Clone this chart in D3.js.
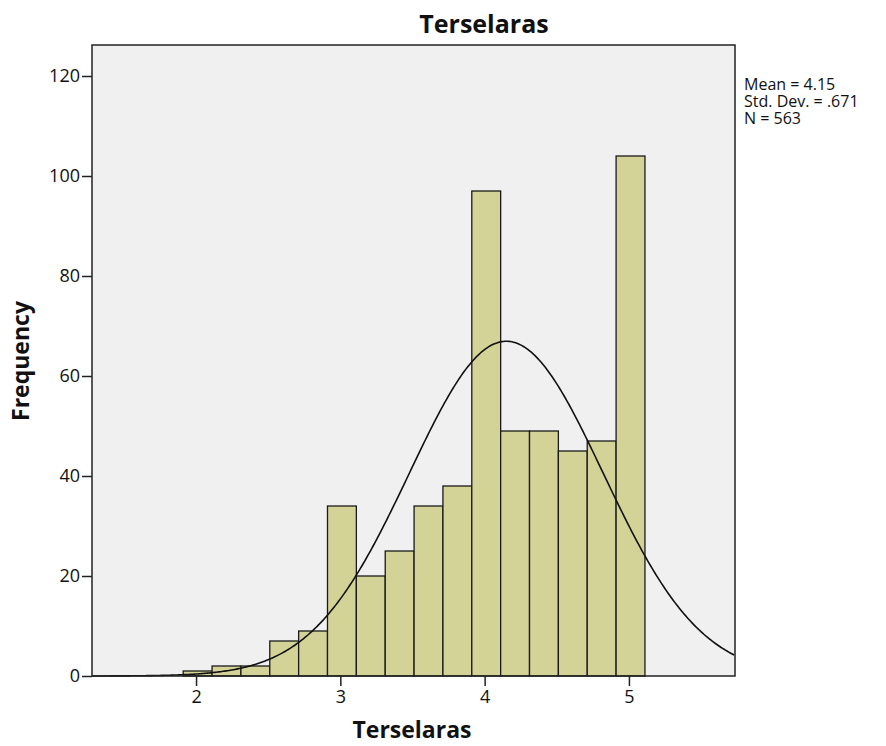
<!DOCTYPE html>
<head>
	<script src="https://d3js.org/d3.v7.min.js"></script>
	<style>
		body { margin: 0; background: #fff; }
		text { font-family: "Open Sans", sans-serif; fill: #111; }
	</style>
</head>
<body>
	<script type="text/javascript">
		// histogram bins (lower edges) and counts
		var binStart = [1.911, 2.111, 2.311, 2.511, 2.711, 2.911, 3.111, 3.311, 3.511, 3.711, 3.911, 4.111, 4.311, 4.511, 4.711, 4.911];
		var counts = [1, 2, 2, 7, 9, 34, 20, 25, 34, 38, 97, 49, 49, 45, 47, 104];
		var binWidth = 0.2;
		var xTicks = [2, 3, 4, 5];
		var yTicks = [0, 20, 40, 60, 80, 100, 120];
		var stats = ["Mean = 4.15", "Std. Dev. = .671", "N = 563"];
		var mean = 4.15, sd = 0.671, n = 563;

		var w = 886, h = 746;
		var pLeft = 92, pRight = 735, pTop = 45, pBottom = 676;

		var svg = d3.select("body").append("svg").attr("width", w).attr("height", h);

		var xScale = d3.scaleLinear().domain([1.279, 5.735]).range([pLeft, pRight]);
		var yScale = d3.scaleLinear().domain([0, 126.2]).range([pBottom, pTop]);

		svg.append("rect")
			.attr("x", pLeft).attr("y", pTop)
			.attr("width", pRight - pLeft).attr("height", pBottom - pTop)
			.attr("fill", "#f0f0f0");

		svg.selectAll("rect.bar")
			.data(counts)
			.enter()
			.append("rect")
			.attr("class", "bar")
			.attr("x", function(d, i){ return xScale(binStart[i]); })
			.attr("y", function(d){ return yScale(d); })
			.attr("width", function(d, i){ return xScale(binStart[i] + binWidth) - xScale(binStart[i]); })
			.attr("height", function(d){ return pBottom - yScale(d); })
			.attr("fill", "#d4d397")
			.attr("stroke", "#1a1a1a")
			.attr("stroke-width", 1.3);

		// normal curve from mean / sd / n
		var curve = d3.range(1.279, 5.735, 0.01).map(function(x){
			var z = (x - mean) / sd;
			return [x, n * binWidth * Math.exp(-0.5 * z * z) / (sd * Math.sqrt(2 * Math.PI))];
		});
		var line = d3.line()
			.x(function(d){ return xScale(d[0]); })
			.y(function(d){ return yScale(d[1]); });
		svg.append("path")
			.datum(curve)
			.attr("d", line)
			.attr("fill", "none")
			.attr("stroke", "#111")
			.attr("stroke-width", 1.6);

		// frame
		svg.append("rect")
			.attr("x", pLeft).attr("y", pTop)
			.attr("width", pRight - pLeft).attr("height", pBottom - pTop)
			.attr("fill", "none")
			.attr("stroke", "#222")
			.attr("stroke-width", 1.5);

		var yAxis = d3.axisLeft(yScale).tickValues(yTicks).tickSize(10).tickPadding(2);
		var xAxis = d3.axisBottom(xScale).tickValues(xTicks).tickFormat(d3.format("d")).tickSize(10).tickPadding(4);

		svg.append("g").attr("transform", "translate(" + pLeft + ",0)").call(yAxis)
			.call(function(g){ g.select(".domain").remove(); })
			.selectAll("text").style("font-size", "18px").attr("font-family", null);
		svg.append("g").attr("transform", "translate(0," + pBottom + ")").call(xAxis)
			.call(function(g){ g.select(".domain").remove(); })
			.selectAll("text").style("font-size", "18px").attr("font-family", null);
		svg.selectAll(".tick line").attr("stroke", "#222").attr("stroke-width", 1.5);

		svg.append("text")
			.attr("x", 484).attr("y", 33)
			.attr("text-anchor", "middle")
			.style("font-size", "25px").style("font-weight", "bold")
			.text("Terselaras");

		svg.append("text")
			.attr("x", 412).attr("y", 738)
			.attr("text-anchor", "middle")
			.style("font-size", "23px").style("font-weight", "bold")
			.text("Terselaras");

		svg.append("text")
			.attr("transform", "translate(29,361) rotate(-90)")
			.attr("text-anchor", "middle")
			.style("font-size", "23px").style("font-weight", "bold")
			.text("Frequency");

		svg.selectAll("text.stat")
			.data(stats)
			.enter()
			.append("text")
			.attr("class", "stat")
			.attr("x", 744)
			.attr("y", function(d, i){ return 90 + i * 17; })
			.style("font-size", "16px")
			.text(function(d){ return d; });
	</script>
</body>
